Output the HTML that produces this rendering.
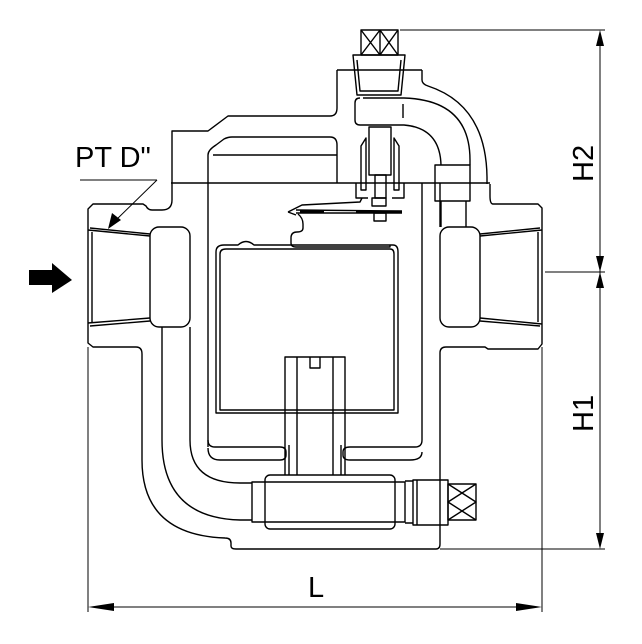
<!DOCTYPE html>
<html><head><meta charset="utf-8"><style>
html,body{margin:0;padding:0;background:#fff;}
svg{display:block;}
text{font-family:"Liberation Sans",sans-serif;fill:#000;}
</style></head><body>
<svg width="642" height="644" viewBox="0 0 642 644" xmlns="http://www.w3.org/2000/svg">
<g fill="none" stroke="#000" stroke-width="1.4" stroke-linejoin="round">
<path d="M337 70 V108 Q337 116 330 116 H228 L208 131 H172 V183 V200 Q172 210 162 210 L152 210 Q148 210 146 206 L143 204 H93 L88 209 V343 L93 347 H136 Q142 347 142 354 V460 Q142 535 225 538 Q231 538 231 543 V546 Q231 549 236 549 H436 Q440 549 440 544 V353 Q440 347 446 347 H485 L488 349 H538 L542 344 V208 L538 204 H493 Q490 204 490 196 V184"/>
<path d="M422 70 H337"/>
<path d="M422 70 V80 Q422 84 428 86 Q486 105 487 177 V184"/>
<line x1="171" y1="183" x2="490" y2="183"/>
<path d="M208 447 V155 Q208 150 216 145 L224 139 Q228 137 232 137 H330 Q337 137 337 145 V183"/>
<line x1="213" y1="155" x2="337" y2="155"/>
<path d="M422 183 V440 Q422 447 415 447 H350 Q343 447 343 452 V455 Q343 460 350 460 H410 Q422 460 422 452"/>
<path d="M208 440 Q208 447 215 447 H280 Q286 447 286 452 V455 Q286 460 280 460 H220 Q208 460 208 448"/>
<path d="M88 230 L150 236 M88 323 L150 318 M92 232 V322"/>
<path d="M90 228 L150 234 M90 326 L150 321"/>
<rect x="150" y="227" width="40" height="100" rx="9"/>
<path d="M480 236 L542 230 M480 318 L542 324 M538 232 V322"/>
<path d="M480 234 L540 228 M480 321 L540 326"/>
<rect x="440" y="227" width="40" height="100" rx="9"/>
<line x1="440" y1="183" x2="440" y2="227"/>
<path d="M162 327 V440 Q162 518 240 520 H252"/>
<path d="M190 327 V440 Q190 483 240 483 H252"/>
<path d="M216 413 V252 Q216 245 224 245 H238 Q246 238 254 245 H393 Q398 245 398 252 V413 Z"/>
<path d="M220 410 V254 Q220 249 226 249 H390 Q394 249 394 254 V410 Z"/>
<path d="M285 475 V357 H345 V475"/>
<path d="M297 475 V357 M333 475 V357 M289 475 V445 M341 475 V445"/>
<path d="M310 357 V368 H320 V357"/>
<rect x="265" y="475" width="130" height="54" rx="5"/>
<rect x="252" y="482" width="153" height="40"/>
<path d="M405 481 H413 V523 H405 M413 480 H448 V525 H413 Z M417 480 V525"/>
<rect x="448" y="484" width="28" height="36"/>
<path d="M448 484 L476 502 L448 520 M476 484 L448 502 L476 520"/>
<rect x="361" y="30" width="37" height="25"/>
<path d="M361 30 L380 55 M380 30 L361 55 M380 30 L398 55 M398 30 L380 55 M380 30 V55"/>
<path d="M353 55 H405 L401 95 H357 Z M357 60 L360 91 H398 L401 60"/>
<path d="M363 98 H404 Q470 100 470 160 V165 M360 125 H404 Q440 128 441 165"/>
<path d="M360 98 Q355 98 355 103 V120 Q355 125 360 125"/>
<line x1="403" y1="104" x2="403" y2="118"/>
<rect x="435" y="165" width="35" height="36"/>
<path d="M441 201 V227 M466 201 V227"/>
<rect x="369" y="127" width="22" height="48"/>
<path d="M361 146 L366 138 V190 H361 Z M399 146 L394 138 V190 H399 Z"/>
<path d="M356 183 V198 H368 M404 183 V198 H392"/>
<path d="M375 175 H386 V198 H375 Z"/>
<rect x="372" y="198" width="14" height="8"/>
<rect x="374" y="213" width="12" height="8"/>
<path d="M288 212 L302 205 L360 202 L362 198 M288 212 L296 215 M296 210 L402 211 M296 213 L402 213"/>
<path d="M298 214 Q303 218 303 224 V228 Q303 232 297 232 Q291 232 291 238 V243 Q291 247 296 247 H390 V245"/>
</g>
<rect x="300" y="210.5" width="24" height="2.5" fill="#000"/>
<rect x="356" y="210.5" width="46" height="2.5" fill="#000"/>
<g stroke="#000" stroke-width="1" fill="none">
<line x1="400" y1="30" x2="605" y2="30"/>
<line x1="545" y1="272" x2="605" y2="272"/>
<line x1="440" y1="549" x2="605" y2="549"/>
<line x1="600" y1="34" x2="600" y2="546"/>
<line x1="88" y1="347" x2="88" y2="612"/>
<line x1="542" y1="347" x2="542" y2="612"/>
<line x1="92" y1="607" x2="538" y2="607"/>
<line x1="80" y1="180" x2="157" y2="180"/>
<line x1="157" y1="180" x2="114" y2="222"/>
</g>
<g fill="#000">
<polygon points="600,30 596,46 604,46"/>
<polygon points="600,272 596,256 604,256"/>
<polygon points="600,272 596,288 604,288"/>
<polygon points="600,549 596,533 604,533"/>
<polygon points="88,607 114,603 114,611"/>
<polygon points="542,607 516,603 516,611"/>
<polygon points="108,229 112,213 121,220"/>
<polygon points="29,270 52,270 52,263 72,280 52,293 52,285 29,285"/>
</g>
<text x="75" y="167" font-size="29">PT D"</text>
<text x="308" y="597" font-size="29">L</text>
<text transform="translate(593,182) rotate(-90)" font-size="29">H2</text>
<text transform="translate(593,432) rotate(-90)" font-size="29">H1</text>
</svg>
</body></html>
